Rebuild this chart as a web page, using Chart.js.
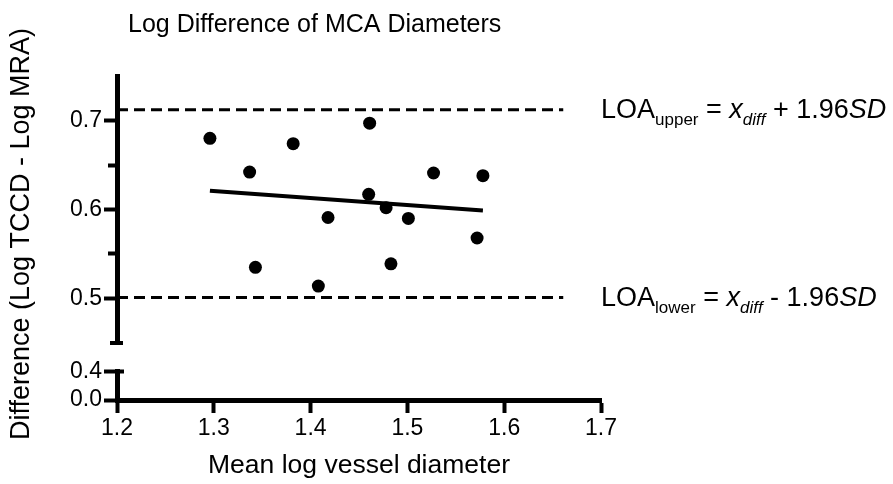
<!DOCTYPE html>
<html>
<head>
<meta charset="utf-8">
<script src="https://cdn.jsdelivr.net/npm/chart.js@4.4.0/dist/chart.umd.min.js"></script>
<style>
	html, body { margin: 0; padding: 0; background: #fff; }
</style>
</head>
<body>
<canvas id="chart" width="893" height="484"></canvas>
<script>

const chartTitle = 'Log Difference of MCA Diameters';
const xTitle = 'Mean log vessel diameter';
const yTitle = 'Difference (Log TCCD - Log MRA)';

// Bland-Altman points
const meanDiameter = [1.296, 1.337, 1.343, 1.382, 1.408, 1.418, 1.461, 1.460, 1.478, 1.483, 1.501, 1.527, 1.572, 1.578];
const logDifference = [0.680, 0.642, 0.535, 0.674, 0.514, 0.591, 0.697, 0.617, 0.602, 0.539, 0.590, 0.641, 0.568, 0.638];

// regression line
const fitX = [1.296, 1.578];
const fitY = [0.621, 0.599];

// limits of agreement
const loaUpper = 0.712;
const loaLower = 0.501;
const loaX = [1.2, 1.661];

const xTicks = [1.2, 1.3, 1.4, 1.5, 1.6, 1.7];
const yTicksTop = [0.5, 0.55, 0.6, 0.65, 0.7];
const yTicksBottom = [0.0, 0.4];

const FONT = '"Liberation Sans", Arial, Helvetica, sans-serif';

Chart.defaults.font.family = FONT;
Chart.defaults.color = '#000';

function isMinor(value) {
	return Math.abs(value * 10 - Math.round(value * 10)) > 1e-6;
}

function pairs(xs, ys) {
	return xs.map((x, i) => ({x: x, y: ys[i]}));
}

function drawRuns(ctx, x, y, runs) {
	runs.forEach(run => {
		ctx.font = (run.italic ? 'italic ' : '') + run.size + 'px ' + FONT;
		ctx.fillText(run.text, x, y + (run.dy || 0));
		x += ctx.measureText(run.text).width;
	});
}

const textPlugin = {
	id: 'extraText',
	afterDraw(chart) {
		const {ctx, chartArea, scales} = chart;
		const axisX = scales.y.right;

		ctx.save();
		ctx.strokeStyle = '#000';
		ctx.lineWidth = 4;

		// end caps of the broken axis
		ctx.beginPath();
		ctx.moveTo(axisX - 7, scales.y.bottom);
		ctx.lineTo(axisX + 6, scales.y.bottom);
		ctx.moveTo(axisX, scales.y2.top);
		ctx.lineTo(axisX + 7, scales.y2.top);
		ctx.stroke();

		ctx.fillStyle = '#000';
		ctx.textBaseline = 'alphabetic';
		ctx.textAlign = 'left';

		ctx.font = '25px ' + FONT;
		ctx.fillText(chartTitle, 128, 32);

		ctx.save();
		ctx.translate(29, 234);
		ctx.rotate(-Math.PI / 2);
		ctx.textAlign = 'center';
		ctx.font = '27px ' + FONT;
		ctx.fillText(yTitle, 0, 0);
		ctx.restore();

		const textX = chartArea.right;
		drawRuns(ctx, textX, scales.y.getPixelForValue(loaUpper) + 8, [
			{text: 'LOA', size: 27},
			{text: 'upper', size: 17, dy: 7},
			{text: ' = ', size: 27},
			{text: 'x', size: 27, italic: true},
			{text: 'diff', size: 17, italic: true, dy: 7},
			{text: ' + 1.96', size: 27},
			{text: 'SD', size: 27, italic: true}
		]);
		drawRuns(ctx, textX, scales.y.getPixelForValue(loaLower) + 8, [
			{text: 'LOA', size: 27},
			{text: 'lower', size: 17, dy: 7},
			{text: ' = ', size: 27},
			{text: 'x', size: 27, italic: true},
			{text: 'diff', size: 17, italic: true, dy: 7},
			{text: ' - 1.96', size: 27},
			{text: 'SD', size: 27, italic: true}
		]);

		ctx.restore();
	}
};

const yBase = {
	type: 'linear',
	position: 'left',
	stack: 'diff',
	afterFit: function(scale) {
		scale.width = 117;
	},
	border: {color: '#000', width: 5},
	grid: {drawOnChartArea: false, tickLength: 13, tickWidth: 4, tickColor: '#000'},
	ticks: {color: '#000', font: {size: 23}, padding: 2, autoSkip: false}
};

new Chart(document.getElementById('chart'), {
	type: 'scatter',
	plugins: [textPlugin],
	data: {
		datasets: [
			{
				data: pairs(meanDiameter, logDifference),
				backgroundColor: '#000',
				borderWidth: 0,
				pointRadius: 6.5,
				yAxisID: 'y'
			},
			{
				data: pairs(fitX, fitY),
				showLine: true,
				borderColor: '#000',
				borderWidth: 4,
				pointRadius: 0,
				yAxisID: 'y'
			},
			{
				data: pairs(loaX, [loaUpper, loaUpper]),
				showLine: true,
				borderColor: '#000',
				borderWidth: 3,
				borderDash: [11, 6],
				pointRadius: 0,
				yAxisID: 'y'
			},
			{
				data: pairs(loaX, [loaLower, loaLower]),
				showLine: true,
				borderColor: '#000',
				borderWidth: 3,
				borderDash: [11, 6],
				pointRadius: 0,
				yAxisID: 'y'
			}
		]
	},
	options: {
		responsive: false,
		animation: false,
		layout: {
			padding: {top: 76, right: 292, left: 0, bottom: 0}
		},
		plugins: {
			legend: {display: false},
			tooltip: {enabled: false}
		},
		scales: {
			x: {
				type: 'linear',
				position: 'bottom',
				min: 1.2,
				max: 1.7,
				afterBuildTicks: function(scale) {
					scale.ticks = xTicks.map(v => ({value: v}));
				},
				afterFit: function(scale) {
					scale.height = 84;
				},
				border: {color: '#000', width: 5},
				grid: {drawOnChartArea: false, tickLength: 13, tickWidth: 4, tickColor: '#000'},
				ticks: {
					color: '#000',
					font: {size: 23},
					padding: 2,
					maxRotation: 0,
					autoSkip: false,
					callback: function(value) {
						return value.toFixed(1);
					}
				},
				title: {
					display: true,
					text: xTitle,
					color: '#000',
					font: {size: 26.5},
					padding: {top: 0, bottom: 2}
				}
			},
			y: Object.assign({}, yBase, {
				min: 0.45,
				max: 0.75,
				weight: 3,
				stackWeight: 267,
				afterBuildTicks: function(scale) {
					scale.ticks = yTicksTop.map(v => ({value: v}));
				},
				grid: Object.assign({}, yBase.grid, {
					tickBorderDash: function(context) {
						return context.tick && isMinor(context.tick.value) ? [0, 4, 30] : [];
					}
				}),
				ticks: Object.assign({}, yBase.ticks, {
					callback: function(value) {
						return isMinor(value) ? '' : value.toFixed(1);
					}
				})
			}),
			yGap: {
				type: 'linear',
				position: 'left',
				stack: 'diff',
				weight: 2,
				stackWeight: 28.5,
				min: 0,
				max: 1,
				afterFit: function(scale) {
					scale.width = 117;
				},
				border: {display: false},
				grid: {display: false},
				ticks: {display: false}
			},
			y2: Object.assign({}, yBase, {
				min: 0,
				max: 0.4,
				weight: 1,
				stackWeight: 28.5,
				afterBuildTicks: function(scale) {
					scale.ticks = yTicksBottom.map(v => ({value: v}));
				},
				ticks: Object.assign({}, yBase.ticks, {
					callback: function(value) {
						return value.toFixed(1);
					}
				})
			})
		}
	}
});

</script>
</body>
</html>
